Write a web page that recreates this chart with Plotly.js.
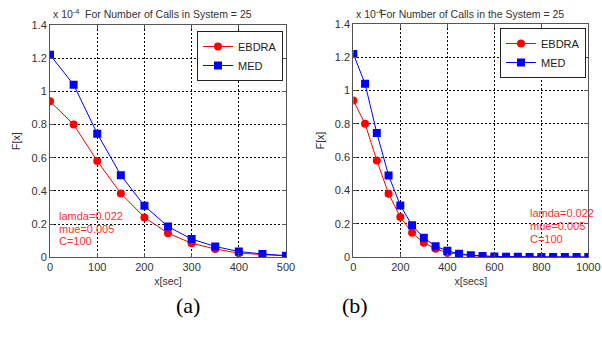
<!DOCTYPE html>
<html>
<head>
<meta charset="utf-8">
<script src="https://cdn.plot.ly/plotly-3.0.1.min.js"></script>
<style>html,body{margin:0;padding:0;background:#fff;}#chart{width:602px;height:337px;}</style>
</head>
<body>
<div id="chart"></div>
<script>
// Values in units of 1e-4
const xA = [0, 50, 100, 150, 200, 250, 300, 350, 400, 450, 500];
const ebdraA = [0.94, 0.80, 0.58, 0.385, 0.24, 0.145, 0.085, 0.05, 0.025, 0.015, 0.008];
const medA = [1.22, 1.04, 0.745, 0.495, 0.31, 0.185, 0.11, 0.065, 0.035, 0.02, 0.01];

const xB = [0, 50, 100, 150, 200, 250, 300, 350, 400, 450, 500, 550, 600, 650, 700, 750, 800, 850, 900, 950, 1000];
const ebdraB = [0.94, 0.80, 0.58, 0.38, 0.24, 0.145, 0.085, 0.05, 0.025, 0.015, 0.008, 0.004, 0.002, 0.001, 0.0005, 0.0003, 0.0002, 0.0001, 0.00005, 0.00003, 0.00002];
const medB = [1.22, 1.04, 0.745, 0.49, 0.31, 0.19, 0.115, 0.065, 0.037, 0.02, 0.011, 0.006, 0.003, 0.002, 0.001, 0.0005, 0.0003, 0.0002, 0.0001, 0.00005, 0.00003];

const yTicks = [0, 0.2, 0.4, 0.6, 0.8, 1, 1.2, 1.4];
const xTicksA = [0, 100, 200, 300, 400, 500];
const xTicksB = [0, 200, 400, 600, 800, 1000];

const RED = '#ff0000', BLUE = '#0000ff';
const FONT = 'Liberation Sans, Arial, sans-serif';
const SERIF = 'Liberation Serif, Times New Roman, serif';

function tr(x, y, name, color, symbol, size, xa, ya, leg) {
  return {
    x: x, y: y, name: name, type: 'scatter', mode: 'lines+markers',
    xaxis: xa, yaxis: ya, legend: leg,
    line: {color: color, width: 1},
    marker: {color: color, symbol: symbol, size: size, line: {width: 0}}
  };
}

const data = [
  tr(xA, ebdraA, 'EBDRA', RED, 'circle', 8, 'x', 'y', 'legend'),
  tr(xA, medA, 'MED', BLUE, 'square', 8, 'x', 'y', 'legend'),
  tr(xB, ebdraB, 'EBDRA', RED, 'circle', 8, 'x2', 'y2', 'legend2'),
  tr(xB, medB, 'MED', BLUE, 'square', 8, 'x2', 'y2', 'legend2')
];

function axis(extra) {
  return Object.assign({
    showline: true, linecolor: '#555', linewidth: 1, mirror: 'ticks',
    ticks: 'inside', ticklen: 4, tickcolor: '#555', tickwidth: 1,
    showgrid: true, gridcolor: '#000', gridwidth: 1, griddash: '2px,2px',
    zeroline: false, tickfont: {family: FONT, size: 11, color: '#333'},
    fixedrange: true
  }, extra);
}

const legendBase = {
  bgcolor: '#fff', bordercolor: '#222', borderwidth: 1,
  font: {family: FONT, size: 11, color: '#222'},
  xanchor: 'right', yanchor: 'top', tracegroupgap: 0
};

const layout = {
  width: 602, height: 337,
  margin: {l: 0, r: 0, t: 0, b: 0},
  paper_bgcolor: '#fff', plot_bgcolor: '#fff',
  showlegend: true,
  xaxis: axis({domain: [0.0831, 0.4751], range: [0, 500], tickvals: xTicksA, anchor: 'y',
    title: {text: 'x[sec]', font: {family: FONT, size: 10.5, color: '#333'}, standoff: 5}}),
  yaxis: axis({domain: [0.2365, 0.926], range: [0, 1.4], tickvals: yTicks, anchor: 'x',
    title: {text: 'F[x]', font: {family: FONT, size: 10.5, color: '#333'}, standoff: 8}}),
  xaxis2: axis({domain: [0.5869, 0.9773], range: [0, 1000], tickvals: xTicksB, anchor: 'y2',
    title: {text: 'x[secs]', font: {family: FONT, size: 10.5, color: '#333'}, standoff: 5}}),
  yaxis2: axis({domain: [0.2374, 0.929], range: [0, 1.4], tickvals: yTicks, anchor: 'x2',
    title: {text: 'F[x]', font: {family: FONT, size: 10.5, color: '#333'}, standoff: 8}}),
  legend: Object.assign({}, legendBase, {x: 283 / 602, y: 1 - 31 / 337}),
  legend2: Object.assign({}, legendBase, {x: 586 / 602, y: 1 - 28 / 337}),
  annotations: [
    {xref: 'paper', yref: 'paper', x: 51 / 602, y: 1 - 14 / 337, xanchor: 'left', yanchor: 'middle',
      text: 'x 10<sup>-4</sup>', showarrow: false, font: {family: FONT, size: 10.5, color: '#333'}},
    {xref: 'paper', yref: 'paper', x: 168 / 602, y: 1 - 14 / 337, xanchor: 'center', yanchor: 'middle',
      text: 'For Number of Calls in System = 25', showarrow: false, font: {family: FONT, size: 10.5, color: '#333'}},
    {xref: 'paper', yref: 'paper', x: 354 / 602, y: 1 - 14 / 337, xanchor: 'left', yanchor: 'middle',
      text: 'x 10<sup>-4</sup>', showarrow: false, font: {family: FONT, size: 10.5, color: '#333'}},
    {xref: 'paper', yref: 'paper', x: 472 / 602, y: 1 - 14 / 337, xanchor: 'center', yanchor: 'middle',
      text: 'For Number of Calls in the System = 25', showarrow: false, font: {family: FONT, size: 10.5, color: '#333'}},

    {xref: 'paper', yref: 'paper', x: 57 / 602, y: 1 - 216 / 337, xanchor: 'left', yanchor: 'middle',
      text: 'lamda=0.022', showarrow: false, font: {family: FONT, size: 11, color: '#ff3030'}},
    {xref: 'paper', yref: 'paper', x: 57 / 602, y: 1 - 229 / 337, xanchor: 'left', yanchor: 'middle',
      text: 'mue=0.005', showarrow: false, font: {family: FONT, size: 11, color: '#ff3030'}},
    {xref: 'paper', yref: 'paper', x: 57 / 602, y: 1 - 241 / 337, xanchor: 'left', yanchor: 'middle',
      text: 'C=100', showarrow: false, font: {family: FONT, size: 11, color: '#ff3030'}},

    {xref: 'paper', yref: 'paper', x: 528 / 602, y: 1 - 213 / 337, xanchor: 'left', yanchor: 'middle',
      text: 'lamda=0.022', showarrow: false, font: {family: FONT, size: 11, color: '#ff3030'}},
    {xref: 'paper', yref: 'paper', x: 528 / 602, y: 1 - 226 / 337, xanchor: 'left', yanchor: 'middle',
      text: 'mue=0.005', showarrow: false, font: {family: FONT, size: 11, color: '#ff3030'}},
    {xref: 'paper', yref: 'paper', x: 528 / 602, y: 1 - 239 / 337, xanchor: 'left', yanchor: 'middle',
      text: 'C=100', showarrow: false, font: {family: FONT, size: 11, color: '#ff3030'}},

    {xref: 'paper', yref: 'paper', x: 188 / 602, y: 1 - 305 / 337, xanchor: 'center', yanchor: 'middle',
      text: '(a)', showarrow: false, font: {family: SERIF, size: 22, color: '#000'}},
    {xref: 'paper', yref: 'paper', x: 355 / 602, y: 1 - 305 / 337, xanchor: 'center', yanchor: 'middle',
      text: '(b)', showarrow: false, font: {family: SERIF, size: 22, color: '#000'}}
  ]
};

Plotly.newPlot('chart', data, layout, {displayModeBar: false, staticPlot: true});
</script>
</body>
</html>
